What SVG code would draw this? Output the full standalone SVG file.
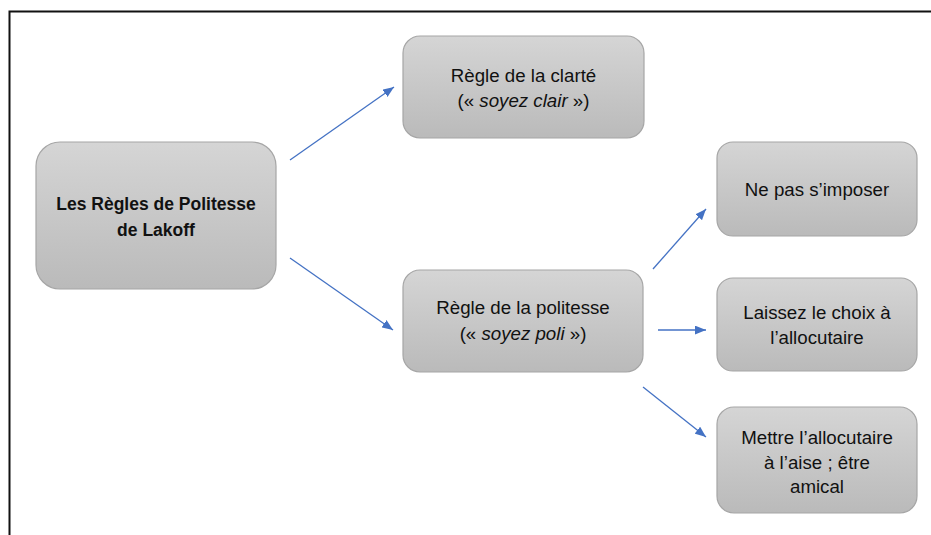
<svg xmlns="http://www.w3.org/2000/svg" width="931" height="535" viewBox="0 0 931 535">
  <defs>
    <linearGradient id="g" x1="0" y1="0" x2="0" y2="1">
      <stop offset="0" stop-color="#d5d5d5"/>
      <stop offset="1" stop-color="#bababa"/>
    </linearGradient>
    <marker id="ah" viewBox="0 0 10 8" refX="10" refY="4" markerWidth="11" markerHeight="9" markerUnits="userSpaceOnUse" orient="auto">
      <path d="M0,0 L10,4 L0,8 Z" fill="#4472c4"/>
    </marker>
    <style>
      .box { fill: url(#g); stroke: #a6a6a6; stroke-width: 1.2; }
      .t { font-family: "Liberation Sans", Arial, sans-serif; font-size: 18.7px; fill: #111; text-anchor: middle; }
      .b { font-weight: bold; font-size: 17.5px; }
      .conn line { stroke: #4472c4; stroke-width: 1.3; marker-end: url(#ah); }
    </style>
  </defs>
  <rect width="931" height="535" fill="#fff"/>
  <path d="M9.5,535 V11.5 H931" fill="none" stroke="#111" stroke-width="2"/>

  <g id="root">
    <rect class="box" x="36" y="142" width="240" height="147" rx="24" ry="24"/>
    <text class="t b" x="156" y="210">Les Règles de Politesse</text>
    <text class="t b" x="156" y="236">de Lakoff</text>
  </g>

  <g id="clarte">
    <rect class="box" x="403" y="36" width="241" height="102" rx="17" ry="17"/>
    <text class="t" x="523.5" y="82">Règle de la clarté</text>
    <text class="t" x="523.5" y="107">(« <tspan font-style="italic">soyez clair</tspan> »)</text>
  </g>

  <g id="politesse">
    <rect class="box" x="403" y="270" width="240" height="102" rx="17" ry="17"/>
    <text class="t" x="523" y="314">Règle de la politesse</text>
    <text class="t" x="523" y="340">(« <tspan font-style="italic">soyez poli</tspan> »)</text>
  </g>

  <g id="nepas">
    <rect class="box" x="717" y="142" width="200" height="94" rx="16" ry="16"/>
    <text class="t" x="817" y="196">Ne pas s’imposer</text>
  </g>

  <g id="laissez">
    <rect class="box" x="717" y="278" width="200" height="93" rx="16" ry="16"/>
    <text class="t" x="817" y="319">Laissez le choix à</text>
    <text class="t" x="817" y="344">l’allocutaire</text>
  </g>

  <g id="mettre">
    <rect class="box" x="717" y="407" width="200" height="106" rx="17" ry="17"/>
    <text class="t" x="817" y="444">Mettre l’allocutaire</text>
    <text class="t" x="817" y="468.5">à l’aise ; être</text>
    <text class="t" x="817" y="493">amical</text>
  </g>

  <g id="connectors" class="conn">
    <line x1="290" y1="160" x2="394" y2="87"/>
    <line x1="290" y1="258" x2="393" y2="330"/>
    <line x1="653" y1="269" x2="706" y2="209"/>
    <line x1="658" y1="330" x2="706" y2="330"/>
    <line x1="643" y1="387" x2="706" y2="437"/>
  </g>
</svg>
